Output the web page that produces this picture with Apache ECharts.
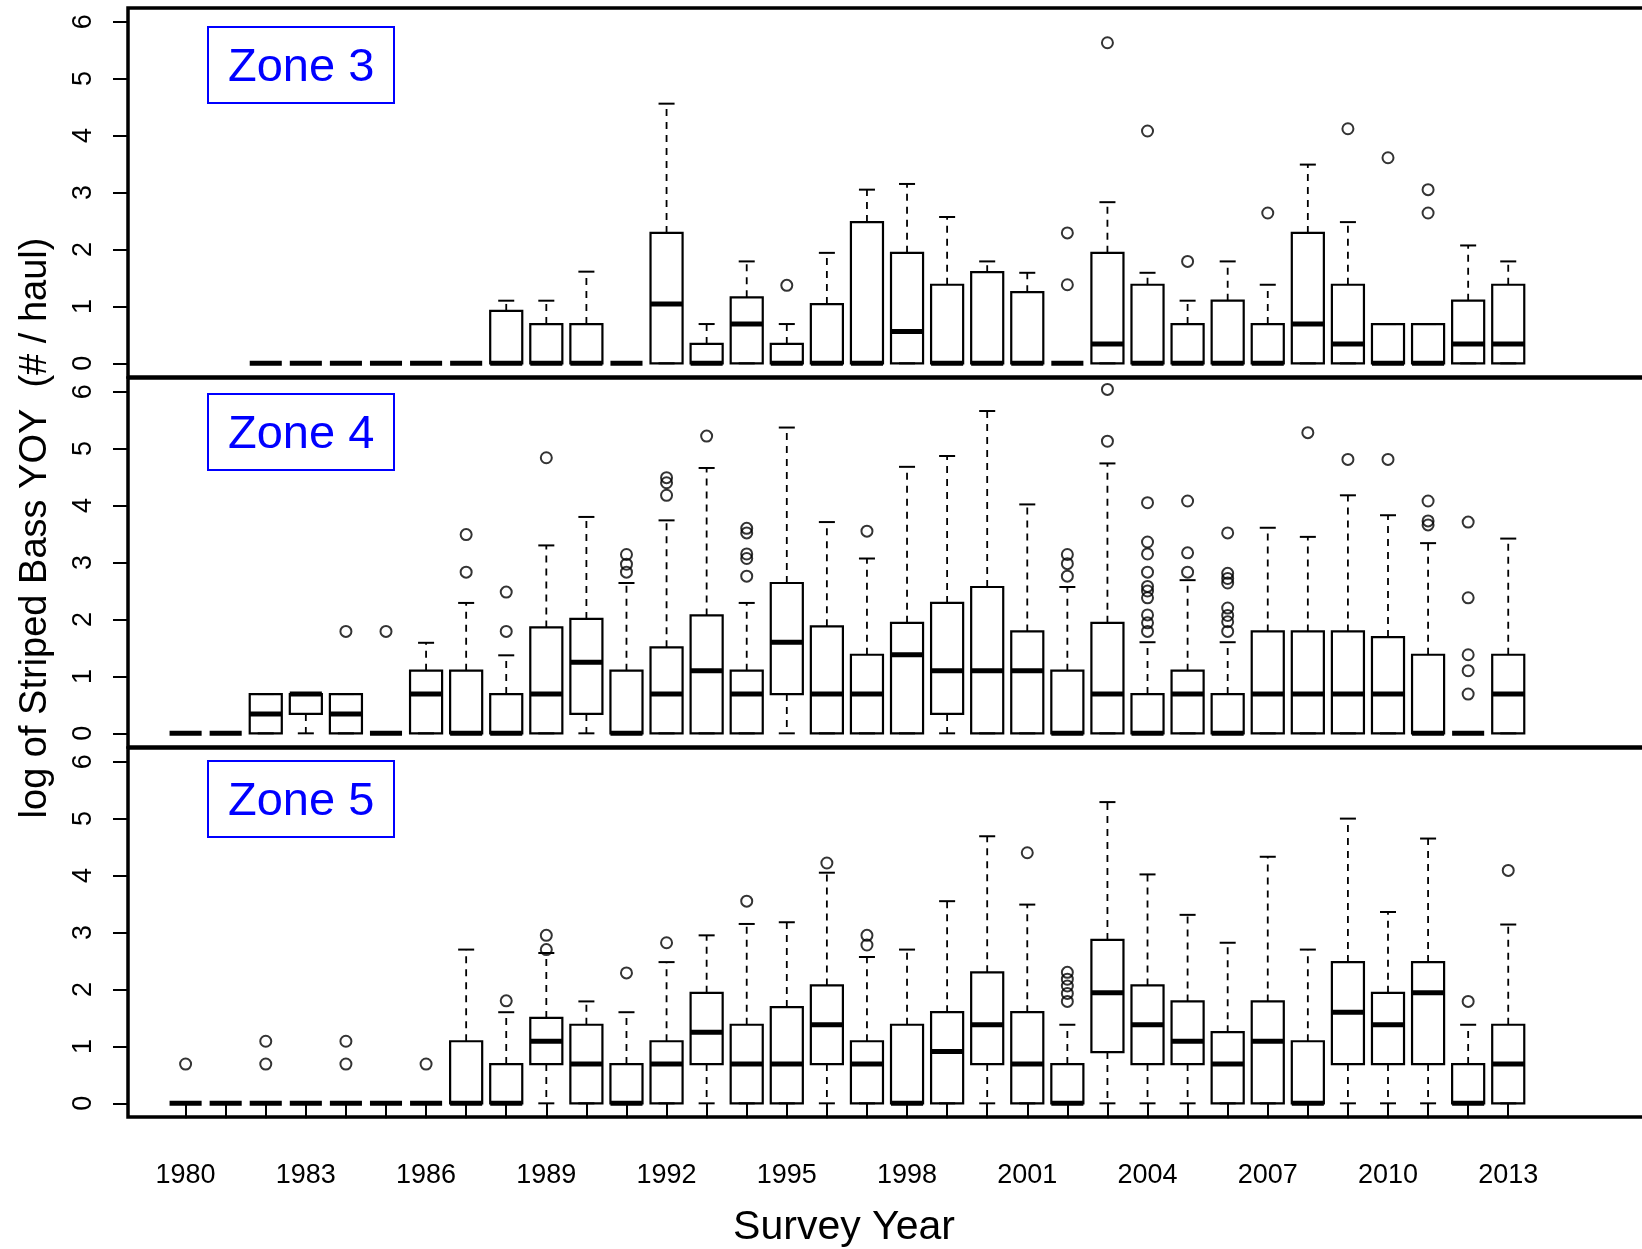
<!DOCTYPE html>
<html>
<head>
<meta charset="utf-8">
<script src="https://cdn.jsdelivr.net/npm/echarts@6/dist/echarts.min.js"></script>
<style>
html,body{margin:0;padding:0;background:#fff;}
#chart{width:1642px;height:1249px;}
</style>
</head>
<body>
<div id="chart"></div>
<script>
// ---------------- DATA ----------------
const tickYears = [1980,1981,1982,1983,1984,1985,1986,1987,1988,1989,1990,1991,1992,1993,1994,1995,1996,1997,1998,1999,2000,2001,2002,2003,2004,2005,2006,2007,2008,2009,2010,2011,2012,2013];
const labelYears = [1980,1983,1986,1989,1992,1995,1998,2001,2004,2007,2010,2013];
const yTicks = [0,1,2,3,4,5,6];
const zoneNames = ['Zone 3','Zone 4','Zone 5'];
const xAxisTitle = 'Survey Year';
const yAxisTitle = 'log of Striped Bass YOY  (# / haul)';

// [year, lower whisker, Q1, median, Q3, upper whisker]
const zone3Boxes = [
  [1982,0,0,0,0,0],[1983,0,0,0,0,0],[1984,0,0,0,0,0],[1985,0,0,0,0,0],[1986,0,0,0,0,0],[1987,0,0,0,0,0],
  [1988,0,0,0,0.92,1.10],[1989,0,0,0,0.69,1.10],[1990,0,0,0,0.69,1.61],[1991,0,0,0,0,0],
  [1992,0,0,1.04,2.29,4.56],[1993,0,0,0,0.34,0.69],[1994,0,0,0.69,1.16,1.79],[1995,0,0,0,0.34,0.69],
  [1996,0,0,0,1.04,1.94],[1997,0,0,0,2.48,3.05],[1998,0,0,0.56,1.94,3.15],[1999,0,0,0,1.38,2.57],
  [2000,0,0,0,1.60,1.79],[2001,0,0,0,1.25,1.59],[2002,0,0,0,0,0],[2003,0,0,0.34,1.94,2.83],
  [2004,0,0,0,1.38,1.59],[2005,0,0,0,0.69,1.10],[2006,0,0,0,1.10,1.79],[2007,0,0,0,0.69,1.38],
  [2008,0,0,0.69,2.29,3.49],[2009,0,0,0.34,1.38,2.48],[2010,0,0,0,0.69,0.69],[2011,0,0,0,0.69,0.69],
  [2012,0,0,0.34,1.10,2.07],[2013,0,0,0.34,1.38,1.79]
];
const zone3Outliers = [
  [1995,1.37],[2002,1.38],[2002,2.29],[2003,5.63],[2004,4.08],[2005,1.79],[2007,2.64],
  [2009,4.12],[2010,3.61],[2011,2.64],[2011,3.05]
];

const zone4Boxes = [
  [1980,0,0,0,0,0],[1981,0,0,0,0,0],[1982,0,0,0.34,0.69,0.69],[1983,0,0.34,0.69,0.69,0.69],
  [1984,0,0,0.34,0.69,0.69],[1985,0,0,0,0,0],[1986,0,0,0.69,1.10,1.59],[1987,0,0,0,1.10,2.29],
  [1988,0,0,0,0.69,1.37],[1989,0,0,0.69,1.86,3.30],[1990,0,0.34,1.25,2.01,3.80],[1991,0,0,0,1.10,2.64],
  [1992,0,0,0.69,1.51,3.74],[1993,0,0,1.10,2.07,4.66],[1994,0,0,0.69,1.10,2.29],[1995,0,0.69,1.60,2.64,5.37],
  [1996,0,0,0.69,1.88,3.71],[1997,0,0,0.69,1.38,3.07],[1998,0,0,1.38,1.94,4.68],[1999,0,0.34,1.10,2.29,4.87],
  [2000,0,0,1.10,2.57,5.66],[2001,0,0,1.10,1.79,4.02],[2002,0,0,0,1.10,2.57],[2003,0,0,0.69,1.94,4.74],
  [2004,0,0,0,0.69,1.60],[2005,0,0,0.69,1.10,2.69],[2006,0,0,0,0.69,1.60],[2007,0,0,0.69,1.79,3.61],
  [2008,0,0,0.69,1.79,3.45],[2009,0,0,0.69,1.79,4.18],[2010,0,0,0.69,1.69,3.83],[2011,0,0,0,1.38,3.34],
  [2012,0,0,0,0,0],[2013,0,0,0.69,1.38,3.42]
];
const zone4Outliers = [
  [1984,1.79],[1985,1.79],[1987,2.83],[1987,3.49],[1988,1.79],[1988,2.48],[1989,4.84],
  [1991,2.83],[1991,2.97],[1991,3.14],[1992,4.18],[1992,4.40],[1992,4.49],[1993,5.22],
  [1994,2.76],[1994,3.07],[1994,3.15],[1994,3.52],[1994,3.60],[1997,3.55],
  [2002,2.76],[2002,2.98],[2002,3.14],[2003,5.13],[2003,6.04],
  [2004,1.79],[2004,1.94],[2004,2.08],[2004,2.38],[2004,2.50],[2004,2.58],[2004,2.83],[2004,3.15],[2004,3.36],[2004,4.05],
  [2005,2.83],[2005,3.17],[2005,4.08],
  [2006,1.79],[2006,1.96],[2006,2.07],[2006,2.20],[2006,2.64],[2006,2.72],[2006,2.81],[2006,3.52],
  [2008,5.28],[2009,4.81],[2010,4.81],[2011,3.66],[2011,3.73],[2011,4.08],
  [2012,0.69],[2012,1.10],[2012,1.38],[2012,2.38],[2012,3.71]
];

const zone5Boxes = [
  [1980,0,0,0,0,0],[1981,0,0,0,0,0],[1982,0,0,0,0,0],[1983,0,0,0,0,0],[1984,0,0,0,0,0],[1985,0,0,0,0,0],
  [1986,0,0,0,0,0],[1987,0,0,0,1.09,2.70],[1988,0,0,0,0.69,1.60],[1989,0,0.69,1.09,1.50,2.64],
  [1990,0,0,0.69,1.38,1.79],[1991,0,0,0,0.69,1.60],[1992,0,0,0.69,1.09,2.48],[1993,0,0.69,1.25,1.94,2.95],
  [1994,0,0,0.69,1.38,3.15],[1995,0,0,0.69,1.69,3.18],[1996,0,0.69,1.38,2.07,4.05],[1997,0,0,0.69,1.09,2.57],
  [1998,0,0,0,1.38,2.70],[1999,0,0,0.91,1.60,3.55],[2000,0,0.69,1.38,2.30,4.69],[2001,0,0,0.69,1.60,3.49],
  [2002,0,0,0,0.69,1.38],[2003,0,0.90,1.94,2.87,5.29],[2004,0,0.69,1.38,2.07,4.02],[2005,0,0.69,1.09,1.79,3.31],
  [2006,0,0,0.69,1.25,2.82],[2007,0,0,1.09,1.79,4.33],[2008,0,0,0,1.09,2.70],[2009,0,0.69,1.60,2.48,5.00],
  [2010,0,0.69,1.38,1.94,3.36],[2011,0,0.69,1.94,2.48,4.65],[2012,0,0,0,0.69,1.38],[2013,0,0,0.69,1.38,3.14]
];
const zone5Outliers = [
  [1980,0.69],[1982,0.69],[1982,1.09],[1984,0.69],[1984,1.09],[1986,0.69],[1988,1.80],
  [1989,2.70],[1989,2.95],[1991,2.29],[1992,2.82],[1994,3.55],[1996,4.22],[1997,2.78],[1997,2.95],
  [2001,4.40],[2002,1.79],[2002,1.93],[2002,2.06],[2002,2.18],[2002,2.30],[2012,1.79],[2013,4.09]
];

// ---------------- CHART ----------------
const FONT = '"Liberation Sans", Arial, Helvetica, sans-serif';
const boxes = [zone3Boxes, zone4Boxes, zone5Boxes];
const outliers = [zone3Outliers, zone4Outliers, zone5Outliers];

const PX_PER_YEAR = 40.08;
const X_MIN = 1978.563, X_MAX = 2017;
const GRID_LEFT = 128, GRID_H = 369;
const gridTops = [8, 378, 748];
const zoneBoxTops = [27, 394, 761];

function renderBox(params, api) {
  const yr = api.value(0);
  const mn = api.value(1), q1 = api.value(2), md = api.value(3), q3 = api.value(4), mx = api.value(5);
  const halfW = api.size([0.8, 0])[0] / 2;
  const capHalf = halfW / 2;
  const cx = api.coord([yr, 0])[0];
  const Y = v => api.coord([yr, v])[1];
  const kids = [];
  const dash = {stroke:'#000', lineWidth:1.8, lineDash:[7,6], fill:null};
  const solid = {stroke:'#000', lineWidth:2, fill:null};
  if (mx > q3) kids.push({type:'line', shape:{x1:cx, y1:Y(q3), x2:cx, y2:Y(mx)}, style:dash});
  if (mn < q1) kids.push({type:'line', shape:{x1:cx, y1:Y(q1), x2:cx, y2:Y(mn)}, style:dash});
  kids.push({type:'line', shape:{x1:cx-capHalf, y1:Y(mx), x2:cx+capHalf, y2:Y(mx)}, style:solid});
  kids.push({type:'line', shape:{x1:cx-capHalf, y1:Y(mn), x2:cx+capHalf, y2:Y(mn)}, style:solid});
  if (q3 > q1) kids.push({type:'rect', shape:{x:cx-halfW, y:Y(q3), width:2*halfW, height:Y(q1)-Y(q3)}, style:{stroke:'#000', lineWidth:2.2, fill:'rgba(0,0,0,0)'}});
  kids.push({type:'line', shape:{x1:cx-halfW, y1:Y(md), x2:cx+halfW, y2:Y(md)}, style:{stroke:'#000', lineWidth:5, fill:null}});
  return {type:'group', children:kids};
}

const grids = [], xAxes = [], yAxes = [], series = [], titles = [];
for (let i = 0; i < 3; i++) {
  grids.push({
    left: GRID_LEFT, top: gridTops[i], width: (X_MAX - X_MIN) * PX_PER_YEAR, height: GRID_H,
    outerBoundsMode: 'none', containLabel: false,
    show: true, borderColor: '#000', borderWidth: 3.5, backgroundColor: 'rgba(0,0,0,0)'
  });
  const last = i === 2;
  xAxes.push({
    type: 'value', gridIndex: i, min: X_MIN, max: X_MAX, show: last,
    axisLine: {show: false},
    splitLine: {show: false},
    axisTick: {show: last, customValues: tickYears, length: 15, inside: false, lineStyle: {color:'#000', width: 2}},
    axisLabel: {show: last, customValues: labelYears, fontSize: 27, fontFamily: FONT, color: '#000', margin: 45,
      formatter: v => String(Math.round(v))}
  });
  yAxes.push({
    type: 'value', gridIndex: i, min: -0.24, max: 6.24,
    axisLine: {show: false},
    splitLine: {show: false},
    axisTick: {show: true, customValues: yTicks, length: 15, inside: false, lineStyle: {color:'#000', width: 2}},
    axisLabel: {show: true, customValues: yTicks, rotate: 90, fontSize: 27, fontFamily: FONT, color: '#000', margin: 31,
      formatter: v => String(Math.round(v))}
  });
  series.push({
    type: 'custom', xAxisIndex: i, yAxisIndex: i, renderItem: renderBox,
    encode: {x: 0, y: [1,2,3,4,5]}, data: boxes[i], silent: true, clip: false
  });
  series.push({
    type: 'scatter', xAxisIndex: i, yAxisIndex: i, data: outliers[i], symbol: 'circle', symbolSize: 11,
    itemStyle: {color: 'rgba(0,0,0,0)', borderColor: '#000', borderWidth: 2}, silent: true, z: 5
  });
  titles.push({
    text: zoneNames[i], left: 208, top: zoneBoxTops[i],
    padding: [16, 20, 10, 20], borderColor: '#0000ff', borderWidth: 2,
    textStyle: {color: '#0000ff', fontSize: 47, fontWeight: 'normal', fontFamily: FONT, lineHeight: 50}
  });
}

const chart = echarts.init(document.getElementById('chart'), null, {renderer: 'canvas'});
chart.setOption({
  animation: false,
  backgroundColor: '#fff',
  title: titles,
  grid: grids,
  xAxis: xAxes,
  yAxis: yAxes,
  series: series,
  graphic: [
    {type: 'text', x: 844, y: 1228, style: {text: xAxisTitle, font: '41px ' + FONT, fill: '#000', textAlign: 'center', textVerticalAlign: 'middle'}},
    {type: 'text', x: 36, y: 528, rotation: Math.PI / 2, style: {text: yAxisTitle, font: '38px ' + FONT, fill: '#000', textAlign: 'center', textVerticalAlign: 'middle'}}
  ]
});
</script>
</body>
</html>
